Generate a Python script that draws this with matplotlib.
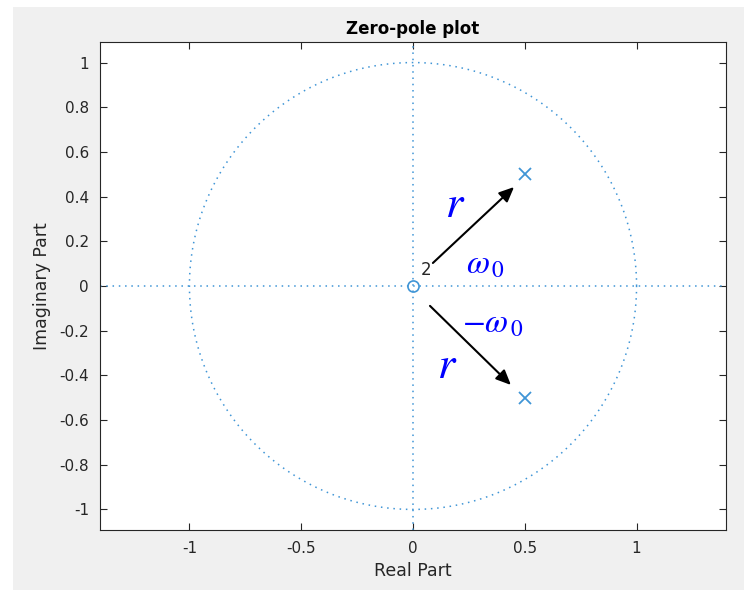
import numpy as np
import matplotlib
matplotlib.use("Agg")
import matplotlib.pyplot as plt
from matplotlib.patches import Rectangle

plt.rcParams['mathtext.fontset'] = 'stix'

# System data
zeros_re = [0.0]
zeros_im = [0.0]
zero_mult = "2"
poles_re = [0.5, 0.5]
poles_im = [0.5, -0.5]
xticks = [-1, -0.5, 0, 0.5, 1]
xticklabels = ["-1", "-0.5", "0", "0.5", "1"]
yticks = [-1, -0.8, -0.6, -0.4, -0.2, 0, 0.2, 0.4, 0.6, 0.8, 1]
yticklabels = ["-1", "-0.8", "-0.6", "-0.4", "-0.2", "0", "0.2", "0.4", "0.6", "0.8", "1"]

blue = "#3f95d6"
tick_col = "#262626"
dots = (0, (1, 3.1))

fig = plt.figure(figsize=(7.44, 5.90), dpi=100)
fig.patch.set_facecolor("white")
fig.add_artist(Rectangle((13 / 744, 0), 1 - 13 / 744, 1 - 7 / 590,
                         transform=fig.transFigure, facecolor="#f0f0f0",
                         edgecolor="none", zorder=-10))

ax = fig.add_axes([100 / 744, 60 / 590, 626 / 744, 488 / 590])
ax.set_facecolor("white")

# unit circle and axes lines
t = np.linspace(0, 2 * np.pi, 400)
ax.plot(np.cos(t), np.sin(t), linestyle=dots, color=blue, lw=1.1)
ax.axhline(0, linestyle=dots, color=blue, lw=1.1)
ax.axvline(0, linestyle=dots, color=blue, lw=1.1)

# zeros and poles
ax.plot(zeros_re, zeros_im, "o", mfc="none", mec=blue, ms=8, mew=1.2)
ax.text(0.035, 0.03, zero_mult, fontsize=12, color=tick_col, ha="left", va="bottom")
ax.plot(poles_re, poles_im, "x", color=blue, ms=9, mew=1.3)

# vectors to the poles
arrow = dict(arrowstyle="-|>,head_length=0.9,head_width=0.4",
             color="black", lw=1.5, shrinkA=0, shrinkB=0)
ax.annotate("", xy=(0.452, 0.443), xytext=(0.089, 0.103), arrowprops=arrow)
ax.annotate("", xy=(0.438, -0.443), xytext=(0.076, -0.089), arrowprops=arrow)

txt_blue = "#0000ff"
ax.text(0.19, 0.365, r"$r$", fontsize=32, color=txt_blue, ha="center", va="center")
ax.text(0.325, 0.10, r"$\omega_{\,0}$", fontsize=24, color=txt_blue, ha="center", va="center")
ax.text(0.355, -0.165, r"$-\omega_{\,0}$", fontsize=24, color=txt_blue, ha="center", va="center")
ax.text(0.155, -0.355, r"$r$", fontsize=32, color=txt_blue, ha="center", va="center")

ax.set_xlim(-1.4, 1.4)
ax.set_ylim(-1.092, 1.092)
ax.set_xticks(xticks)
ax.set_xticklabels(xticklabels)
ax.set_yticks(yticks)
ax.set_yticklabels(yticklabels)
ax.tick_params(direction="in", top=True, right=True, length=5, width=0.8,
               colors=tick_col, labelsize=11, labelcolor=tick_col, pad=8)
for s in ax.spines.values():
    s.set_color("#262626")
    s.set_linewidth(0.8)

ax.set_xlabel("Real Part", fontsize=12.5, color=tick_col, labelpad=4)
ax.set_ylabel("Imaginary Part", fontsize=12.5, color=tick_col, labelpad=6)
ax.set_title("Zero-pole plot", fontsize=12, fontweight="bold", color="black", pad=6)

fig.savefig("out.png", dpi=100, facecolor=fig.get_facecolor())
